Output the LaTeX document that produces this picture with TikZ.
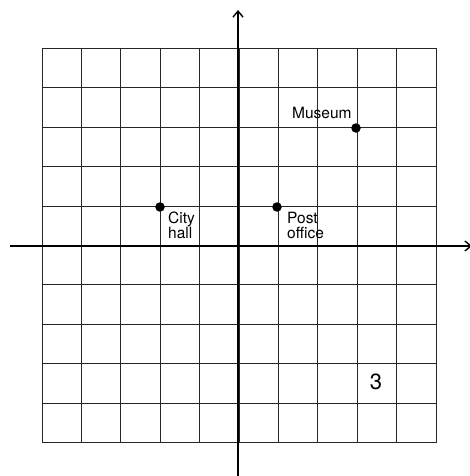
\documentclass[tikz,border=0pt]{standalone}
\usepackage{fontspec}
\setmainfont{TeX Gyre Heros}
\usetikzlibrary{arrows.meta}
\begin{document}
\begin{tikzpicture}[x=1pt,y=-1pt,
  gridline/.style={line width=0.9pt,black!85},
  axisline/.style={line width=1.6pt,black},
  dotpt/.style={circle,fill=black,inner sep=0pt,minimum size=9.5pt},
  lbl/.style={font=\fontsize{15.5}{15}\selectfont,align=left,inner sep=0pt,anchor=north west}]
\useasboundingbox (0,0) rectangle (469,476);
% grid
\foreach \i in {0,...,10} {
  \draw[gridline] ({42+39.4*\i},48.5) -- ({42+39.4*\i},442.5);
  \draw[gridline] (42,{48.5+39.4*\i}) -- (436,{48.5+39.4*\i});
}
% axes
\coordinate (ytop) at (238,10);
\coordinate (ybot) at (238,476);
\coordinate (xleft) at (10,246);
\coordinate (xright) at (472,246);
\draw[axisline,-{Straight Barb[length=6pt,width=10pt,line width=1.4pt]}] (ybot) -- (ytop);
\draw[axisline,-{Straight Barb[length=6pt,width=10pt,line width=1.4pt]}] (xleft) -- (xright);
% points
\node[dotpt] (city) at (160,207) {};
\node[dotpt] (post) at (277,207) {};
\node[dotpt] (museum) at (356,128) {};
\node[lbl] (citylbl) at (168,212) {City\\hall};
\node[lbl] (postlbl) at (287,212) {Post\\office};
\node[lbl,anchor=base west] (museumlbl) at (292,118) {Museum};
\node[font=\fontsize{22}{22}\selectfont,inner sep=0pt] (three) at (376,382) {3};
\end{tikzpicture}
\end{document}
